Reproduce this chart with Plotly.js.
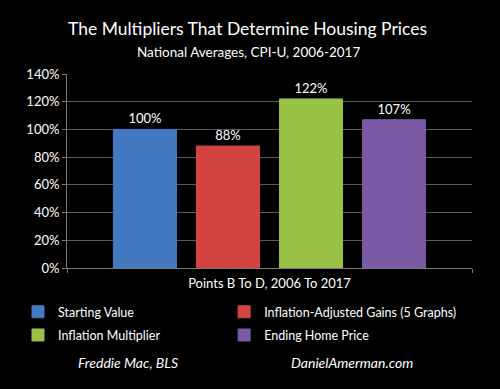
<!DOCTYPE html>
<html><head><meta charset="utf-8">
<script src="https://cdn.plot.ly/plotly-3.0.1.min.js"></script>
<style>html,body{margin:0;padding:0;background:#000;}#chart{width:500px;height:389px;}</style>
</head><body><div id="chart"></div>
<script>
const category = ["Points B To D, 2006 To 2017"];
const seriesNames = ["Starting Value", "Inflation-Adjusted Gains (5 Graphs)", "Inflation Multiplier", "Ending Home Price"];
const seriesValues = [100, 88, 122, 107];
const seriesColors = ["#4279c0", "#d24341", "#98c146", "#7b5aa5"];
const legendColumn = ["legend", "legend2", "legend", "legend2"];
const yTickVals = [0, 20, 40, 60, 80, 100, 120, 140];
const yTickText = ["0%", "20%", "40%", "60%", "80%", "100%", "120%", "140%"];

const FONT = "Lato, 'Open Sans', sans-serif";
const traces = seriesNames.map((n, i) => ({
  type: "bar", name: n, x: category, y: [seriesValues[i]],
  legend: legendColumn[i], legendgroup: "g" + i,
  marker: {color: seriesColors[i], line: {color: seriesColors[i], width: 1}},
  text: [seriesValues[i] + "%"], textposition: "outside", cliponaxis: false,
  textfont: {color: "#ffffff", size: 13, family: FONT},
  hoverinfo: "skip"
}));

const legendBase = {orientation: "v", y: -0.15, xanchor: "left", yanchor: "top",
  traceorder: "grouped", tracegroupgap: 4,
  font: {size: 12.5, color: "#ffffff", family: FONT}, bgcolor: "rgba(0,0,0,0)"};

const layout = {
  width: 500, height: 389,
  paper_bgcolor: "#000", plot_bgcolor: "#000",
  margin: {l: 67, r: 28, t: 74, b: 121},
  font: {family: FONT, color: "#ffffff"},
  barmode: "group", bargap: 0.18, bargroupgap: 0.24,
  showlegend: true,
  legend: Object.assign({}, legendBase, {x: -0.121}),
  legend2: Object.assign({}, legendBase, {x: 0.388}),
  xaxis: {type: "category", showgrid: false, showline: true, linecolor: "#7a7a7a", linewidth: 1,
    ticks: "outside", tickson: "boundaries", ticklen: 4, tickcolor: "#7a7a7a", ticklabelstandoff: 3,
    tickfont: {size: 13, color: "#ffffff", family: FONT}, fixedrange: true},
  yaxis: {range: [0, 140], tickvals: yTickVals, ticktext: yTickText,
    showgrid: true, gridcolor: "#5a5a5a", gridwidth: 1, zeroline: false,
    showline: true, linecolor: "#7a7a7a", linewidth: 1, ticks: "outside", ticklen: 4, tickcolor: "#7a7a7a",
    tickfont: {size: 13, color: "#ffffff", family: FONT}, fixedrange: true},
  title: {text: "The Multipliers That Determine Housing Prices",
    font: {size: 17.5, color: "#ffffff", family: FONT}, x: 0.495, xanchor: "center", y: 0.925, yanchor: "middle"},
  annotations: [
    {text: "National Averages, CPI-U, 2006-2017", xref: "paper", yref: "paper", x: 0.447, y: 1.113, xanchor: "center", yanchor: "middle",
      showarrow: false, font: {size: 13.5, color: "#ffffff", family: FONT}},
    {text: "<i>Freddie Mac, BLS</i>", xref: "paper", yref: "paper", x: 0.151, y: -0.485, xanchor: "center", yanchor: "middle",
      showarrow: false, font: {size: 14, color: "#ffffff", family: FONT}},
    {text: "<i>DanielAmerman.com</i>", xref: "paper", yref: "paper", x: 0.704, y: -0.485, xanchor: "center", yanchor: "middle",
      showarrow: false, font: {size: 14, color: "#ffffff", family: FONT}}
  ]
};
Plotly.newPlot("chart", traces, layout, {displayModeBar: false, staticPlot: true});
</script></body></html>
